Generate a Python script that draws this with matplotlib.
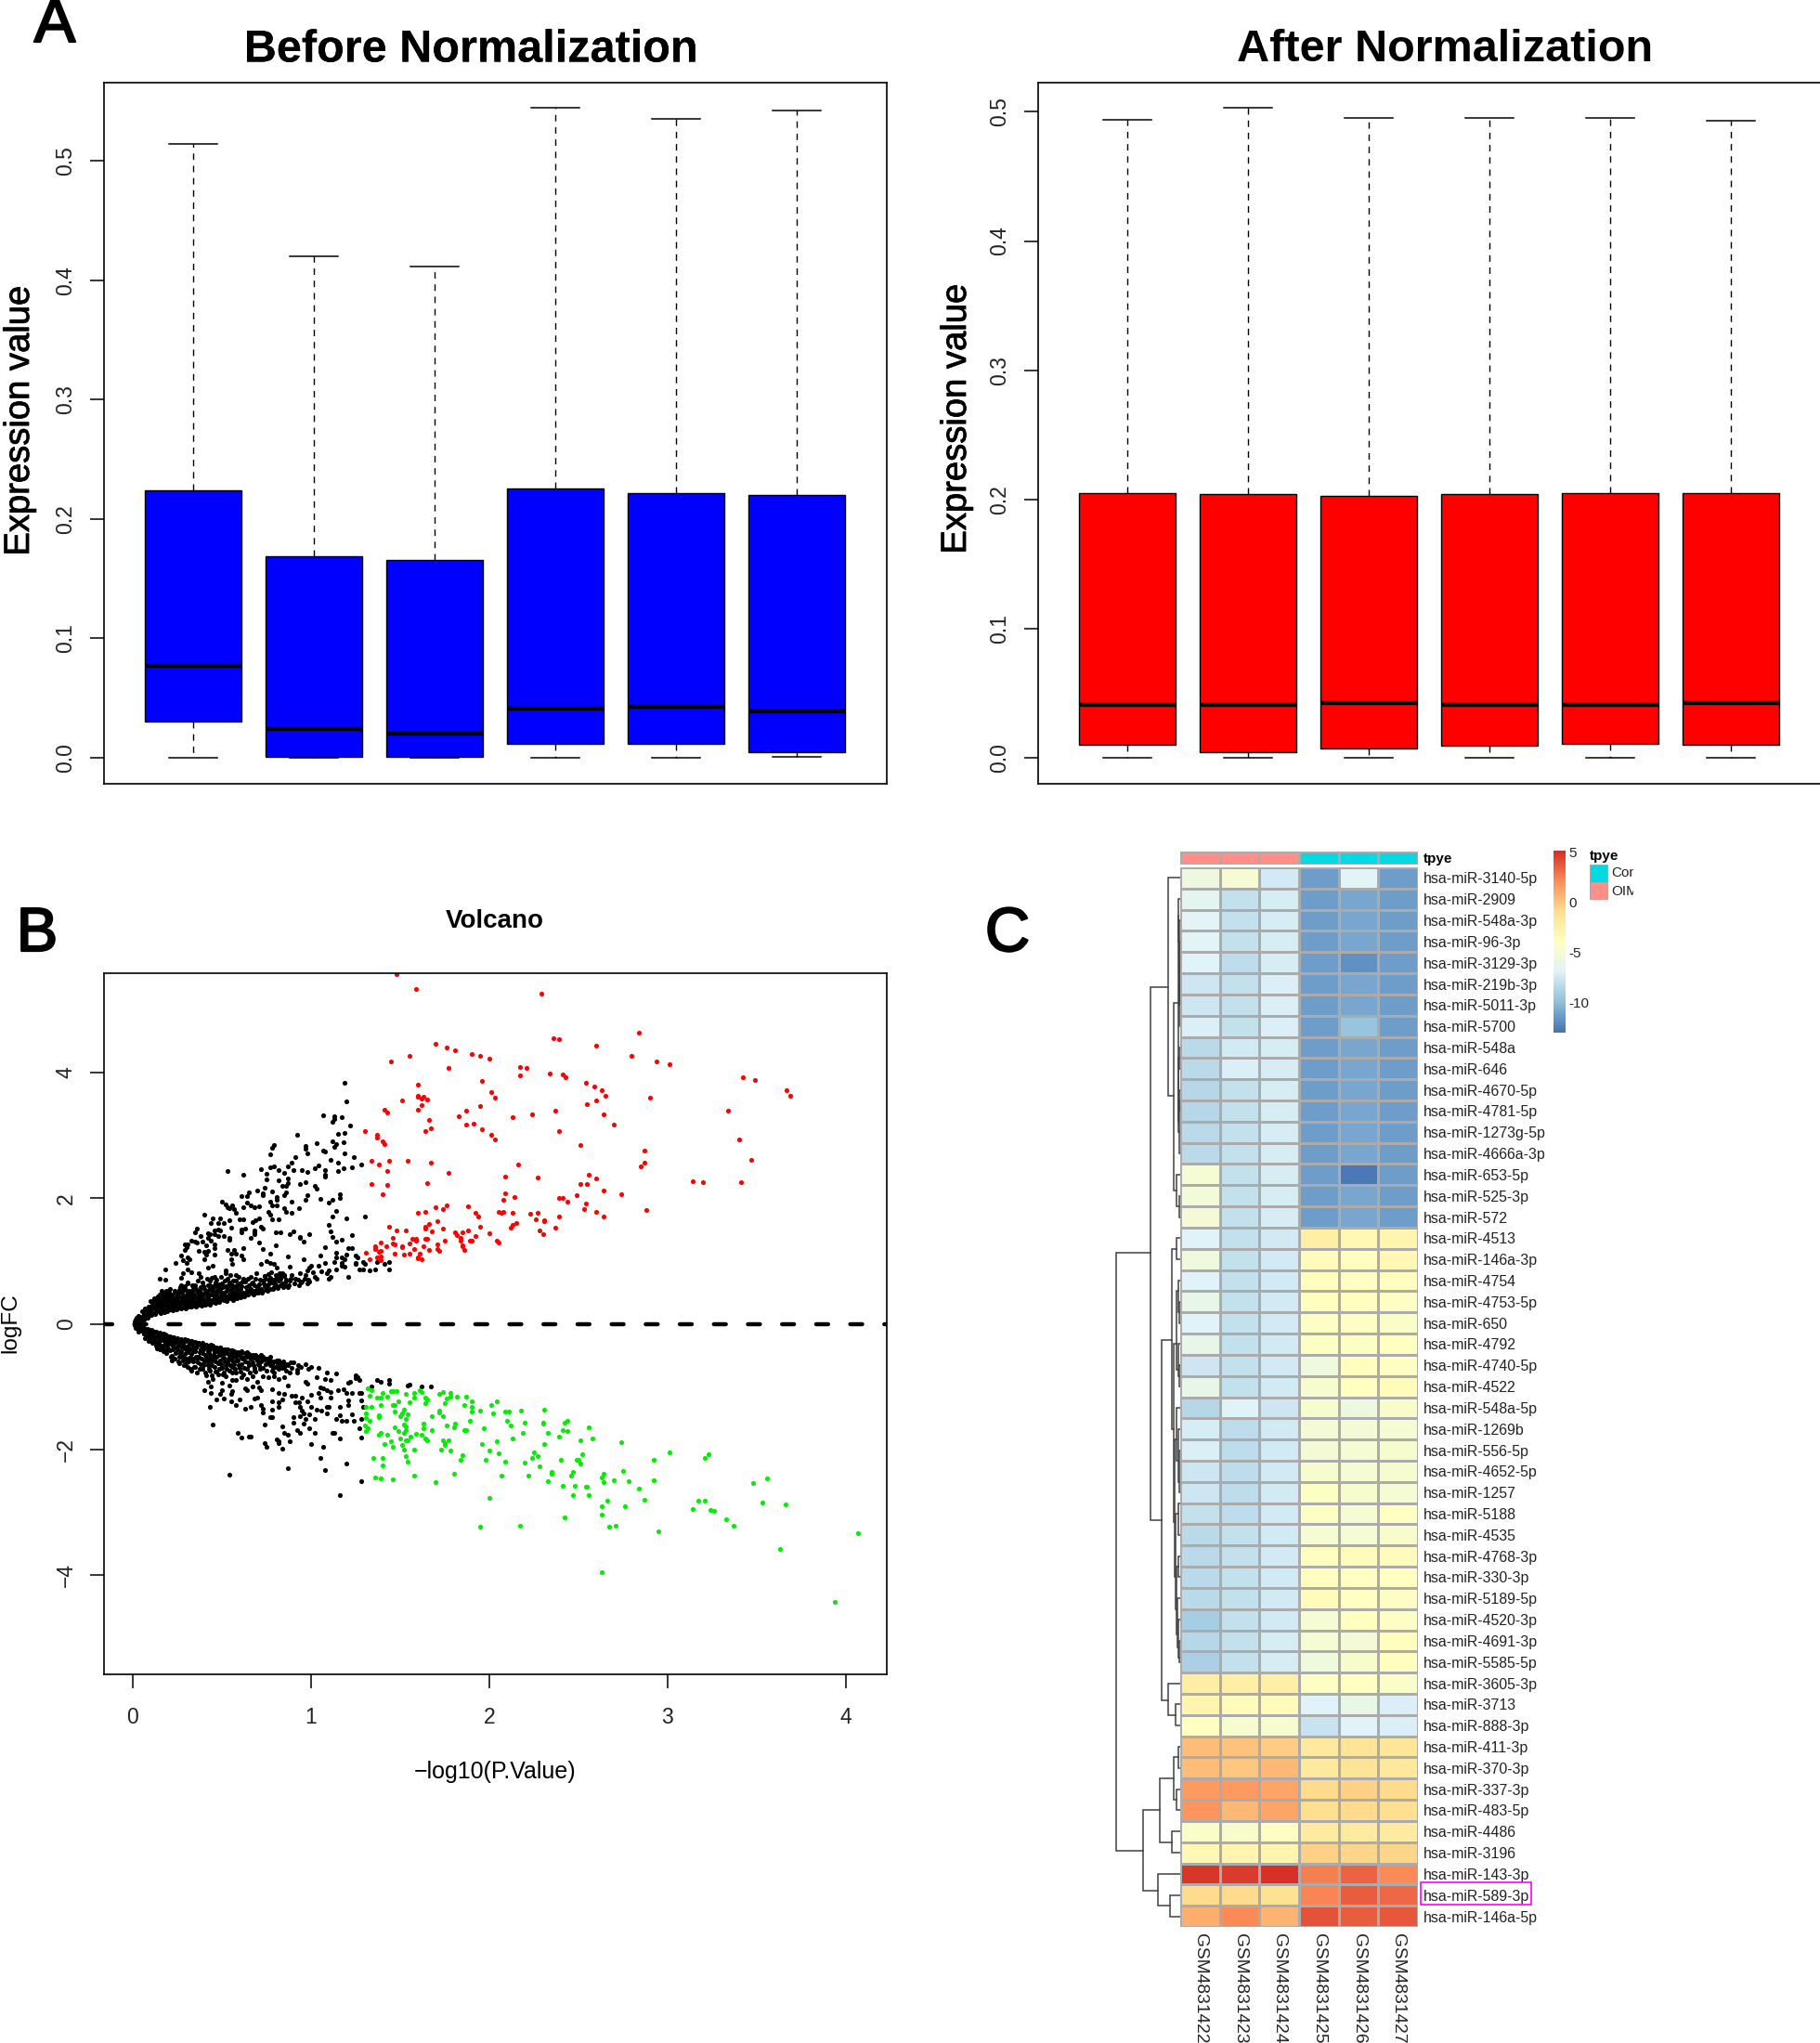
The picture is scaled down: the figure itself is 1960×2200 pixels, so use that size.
import numpy as np
import matplotlib
matplotlib.use('Agg')
import matplotlib.pyplot as plt
import matplotlib.patheffects as pe
from matplotlib.colors import LinearSegmentedColormap, ListedColormap
from matplotlib.patches import Rectangle

plt.rcParams['font.family'] = ['Liberation Sans', 'DejaVu Sans']

W, H = 1960, 2200

# panel A
before_hi = [0.514, 0.420, 0.412, 0.545, 0.535, 0.542]
before_q3 = [0.224, 0.169, 0.166, 0.226, 0.222, 0.220]
before_med = [0.077, 0.024, 0.020, 0.041, 0.043, 0.039]
before_q1 = [0.030, 0.001, 0.001, 0.012, 0.012, 0.005]
before_lo = [0.0, 0.0, 0.0, 0.0, 0.0, 0.001]

after_hi = [0.494, 0.503, 0.495, 0.495, 0.495, 0.493]
after_q3 = [0.2045, 0.204, 0.203, 0.204, 0.205, 0.2045]
after_med = [0.041, 0.041, 0.042, 0.041, 0.041, 0.042]
after_q1 = [0.010, 0.004, 0.007, 0.009, 0.011, 0.010]
after_lo = [0.0, 0.0, 0.0, 0.0, 0.0, 0.0]

# panel B, (-log10 p, logFC)
red_pts = [
(1.48,5.57),(1.59,5.33),(2.29,5.26),(2.84,4.64),(2.36,4.55),(2.39,4.53),(2.60,4.43),(1.70,4.46),(1.76,4.40),(1.81,4.36),
(1.90,4.30),(1.95,4.26),(2.00,4.22),(1.55,4.27),(1.45,4.17),(2.80,4.26),(2.94,4.17),(3.01,4.13),(2.17,4.09),(2.21,4.07),
(1.77,4.07),(2.17,3.96),(2.34,3.99),(2.41,3.97),(2.43,3.92),(3.42,3.92),(3.49,3.88),(1.96,3.87),(2.54,3.83),(2.59,3.78),
(2.63,3.72),(3.67,3.72),(3.69,3.63),(1.60,3.80),(2.01,3.69),(2.03,3.60),(2.65,3.63),(2.90,3.60),(1.60,3.63),(1.60,3.62),
(1.63,3.62),(1.62,3.58),(1.65,3.57),(1.51,3.55),(1.62,3.48),(2.60,3.55),(2.55,3.50),(1.95,3.47),(1.41,3.40),(1.43,3.37),
(1.60,3.40),(1.87,3.39),(2.37,3.39),(3.34,3.39),(2.24,3.33),(2.64,3.34),(1.83,3.30),(2.13,3.29),(1.66,3.24),(1.87,3.17),
(1.91,3.18),(2.70,3.17),(1.67,3.11),(1.96,3.10),(1.64,3.06),(1.30,3.06),(2.39,3.06),(1.37,3.01),(1.37,2.96),(2.01,3.01),
(2.03,2.93),(3.40,2.93),(1.40,2.90),(1.41,2.86),(2.51,2.84),(2.87,2.75),(1.34,2.59),(1.44,2.59),(1.54,2.60),(1.67,2.57),
(1.38,2.53),(2.16,2.54),(3.47,2.61),(2.87,2.56),(2.85,2.50),(1.43,2.43),(1.77,2.40),(2.09,2.34),(2.27,2.33),(2.56,2.37),
(2.60,2.31),(3.14,2.27),(3.20,2.25),(3.41,2.25),(1.34,2.23),(1.43,2.21),(1.65,2.24),(2.51,2.23),(2.55,2.23),(2.64,2.12),
(1.40,2.06),(2.09,2.07),(2.74,2.06),(2.49,2.04),(2.14,2.02),(2.39,2.01),(2.41,2.00),(2.08,1.97),(2.44,1.94),(2.54,1.92),
(1.76,1.89),(1.70,1.85),(1.74,1.83),(1.88,1.87),(2.53,1.83),(2.88,1.81),(1.60,1.76),(1.64,1.78),(1.92,1.77),(2.05,1.78),
(2.07,1.76),(2.08,1.78),(2.13,1.76),(2.23,1.75),(2.27,1.76),(2.60,1.78),(1.94,1.70),(2.39,1.70),(2.64,1.70),(2.26,1.67),
(2.31,1.64),(2.31,1.65),(1.71,1.63),(1.66,1.59),(2.15,1.61),(1.44,1.55),(1.95,1.55),(2.13,1.57),(2.12,1.53),(2.37,1.53),
(1.64,1.54),(1.64,1.51),(1.74,1.52),(1.48,1.48),(1.53,1.49),(1.68,1.47),(1.88,1.49),(1.85,1.46),(1.81,1.45),(1.82,1.41),
(2.00,1.44),(2.28,1.48),(2.30,1.43),(1.92,1.39),(1.84,1.37),(1.57,1.35),(1.59,1.35),(1.59,1.33),(1.46,1.36),(1.64,1.35),
(1.65,1.35),(1.75,1.33),(1.84,1.32),(1.89,1.33),(1.90,1.32),(2.04,1.33),(2.05,1.30),(1.39,1.30),(1.46,1.28),(1.47,1.26),
(1.55,1.28),(1.71,1.27),(1.42,1.24),(1.36,1.23),(1.51,1.24),(1.51,1.22),(1.63,1.23),(1.85,1.25),(1.85,1.23),(1.36,1.19),
(1.58,1.19),(1.66,1.18),(1.71,1.19),(1.72,1.16),(1.86,1.17),(1.39,1.16),(1.38,1.15),(1.31,1.13),(1.47,1.12),(1.52,1.10),
(1.55,1.11),(1.61,1.12),(1.39,1.07),(1.37,1.05),(1.60,1.06),(1.60,1.04),(1.62,1.02),(1.33,1.02),(1.39,1.01),
]

green_pts = [
(1.32,-1.02),(1.34,-1.06),(1.40,-1.10),(1.33,-1.15),(1.37,-1.17),(1.39,-1.18),(1.43,-1.16),(1.45,-1.07),(1.46,-1.07),(1.48,-1.07),
(1.53,-1.12),(1.58,-1.10),(1.61,-1.06),(1.62,-1.09),(1.72,-1.12),(1.74,-1.08),(1.78,-1.10),(1.58,-1.18),(1.64,-1.17),(1.65,-1.20),
(1.76,-1.19),(1.78,-1.16),(1.82,-1.16),(1.87,-1.16),(1.49,-1.23),(1.55,-1.25),(1.64,-1.27),(1.75,-1.26),(1.90,-1.23),(2.04,-1.23),
(2.01,-1.29),(1.86,-1.29),(1.39,-1.30),(1.46,-1.30),(1.47,-1.30),(1.31,-1.33),(1.34,-1.32),(1.90,-1.33),(1.52,-1.37),(1.47,-1.39),
(1.72,-1.38),(1.72,-1.41),(1.90,-1.39),(1.95,-1.38),(2.09,-1.39),(2.11,-1.39),(2.18,-1.38),(2.31,-1.37),(1.51,-1.42),(1.31,-1.42),
(2.02,-1.42),(1.54,-1.44),(1.50,-1.47),(1.38,-1.46),(1.38,-1.48),(1.68,-1.47),(1.74,-1.47),(1.31,-1.50),(1.53,-1.51),(1.33,-1.54),
(1.89,-1.55),(2.10,-1.55),(2.44,-1.54),(2.42,-1.57),(1.63,-1.59),(1.81,-1.59),(2.20,-1.58),(2.30,-1.58),(2.30,-1.59),(1.30,-1.62),
(1.52,-1.61),(1.53,-1.63),(1.76,-1.62),(1.80,-1.65),(2.12,-1.62),(2.56,-1.65),(1.32,-1.67),(1.47,-1.65),(1.63,-1.66),(1.97,-1.67),
(1.53,-1.69),(1.68,-1.69),(1.86,-1.69),(1.87,-1.69),(2.41,-1.69),(1.31,-1.71),(1.49,-1.70),(1.52,-1.74),(2.33,-1.73),(2.44,-1.71),
(2.19,-1.73),(1.39,-1.73),(1.38,-1.77),(1.43,-1.76),(1.59,-1.75),(1.62,-1.77),(1.56,-1.80),(1.50,-1.82),(1.64,-1.82),(1.65,-1.85),
(2.39,-1.79),(2.13,-1.83),(2.58,-1.82),(1.45,-1.87),(1.53,-1.86),(1.54,-1.86),(1.74,-1.85),(1.77,-1.85),(2.04,-1.87),(2.51,-1.86),
(2.74,-1.88),(1.41,-1.91),(1.51,-1.93),(1.75,-1.90),(1.75,-1.93),(1.96,-1.92),(2.31,-1.92),(1.46,-1.96),(1.52,-2.00),(1.58,-2.00),
(1.73,-2.00),(1.78,-2.02),(2.00,-2.02),(2.25,-2.04),(2.05,-2.06),(3.01,-2.05),(3.23,-2.08),(1.85,-2.09),(1.53,-2.10),(2.27,-2.10),
(2.52,-2.08),(1.35,-2.14),(1.40,-2.14),(1.84,-2.16),(2.24,-2.13),(3.21,-2.14),(1.54,-2.19),(1.98,-2.17),(2.09,-2.19),(2.40,-2.17),
(2.49,-2.16),(2.50,-2.16),(2.92,-2.17),(2.20,-2.21),(2.51,-2.22),(1.40,-2.25),(2.28,-2.27),(2.75,-2.34),(2.35,-2.36),(2.35,-2.38),
(2.47,-2.36),(1.80,-2.38),(2.64,-2.38),(2.07,-2.41),(2.22,-2.42),(2.46,-2.42),(1.58,-2.42),(1.36,-2.45),(1.39,-2.46),(1.46,-2.48),
(2.63,-2.44),(3.56,-2.46),(2.70,-2.49),(2.33,-2.50),(2.92,-2.49),(2.64,-2.52),(2.78,-2.51),(1.70,-2.52),(3.48,-2.53),(2.41,-2.58),
(2.48,-2.58),(2.54,-2.60),(2.55,-2.59),(2.84,-2.63),(2.56,-2.72),(2.47,-2.73),(2.00,-2.77),(2.66,-2.81),(2.87,-2.80),(3.17,-2.81),
(3.21,-2.81),(3.53,-2.85),(3.66,-2.87),(2.63,-2.91),(2.76,-2.90),(3.14,-2.95),(3.24,-2.97),(3.26,-2.98),(2.42,-3.08),(2.63,-3.04),
(3.33,-3.11),(1.95,-3.23),(2.17,-3.21),(2.67,-3.23),(2.71,-3.22),(3.37,-3.22),(2.95,-3.30),(4.07,-3.34),(3.63,-3.58),(2.63,-3.96),(3.94,-4.43),
]

black_up_pts = [
(1.19,3.83),(1.20,3.54),(1.07,3.32),(1.13,3.30),(1.17,3.29),(1.13,3.26),(1.12,3.21),(1.22,3.15),(1.15,3.03),(1.19,3.04),
(0.92,3.01),(1.12,2.90),(1.18,2.89),(1.14,2.86),(1.13,2.81),(0.79,2.85),(0.78,2.80),(0.97,2.83),(0.97,2.79),(1.03,2.87),
(1.07,2.76),(1.08,2.74),(0.77,2.70),(0.98,2.71),(1.19,2.71),(1.24,2.66),(0.91,2.65),(0.89,2.57),(1.11,2.61),(1.15,2.57),
(1.28,2.54),(1.04,2.52),(1.02,2.48),(1.18,2.48),(1.23,2.49),(0.79,2.50),(0.77,2.49),(0.72,2.46),(0.82,2.45),(0.87,2.50),
(0.90,2.45),(0.95,2.45),(0.53,2.43),(0.85,2.40),(0.98,2.41),(1.08,2.45),(1.15,2.43),(1.08,2.37),(0.62,2.37),(0.75,2.38),
(1.08,2.35),(0.87,2.32),(0.82,2.29),(0.75,2.30),(0.97,2.25),(0.94,2.23),(0.87,2.24),(0.86,2.20),(0.84,2.19),(1.02,2.20),
(1.03,2.15),(0.74,2.16),(0.70,2.12),(0.78,2.11),(0.65,2.09),(0.73,2.08),(0.86,2.09),(0.64,2.03),(0.73,2.05),(0.61,2.03),
(0.85,2.04),(0.98,2.04),(1.16,2.06),(0.81,2.02),(0.81,1.97),(0.89,1.95),(0.97,1.97),(1.05,1.99),(1.16,2.00),(1.12,1.97),
(1.10,1.93),(0.50,1.94),(0.77,1.95),(0.64,1.93),(0.66,1.89),(0.68,1.86),(0.71,1.87),(0.52,1.90),(0.53,1.86),(0.56,1.88),
(0.54,1.84),(0.57,1.83),(0.62,1.86),(0.78,1.88),(0.81,1.88),(0.85,1.84),(0.86,1.78),(0.89,1.76),(0.93,1.84),(0.58,1.77),
(1.14,1.79),(0.76,1.78),(0.77,1.73),(0.40,1.73),(0.78,1.67),(0.82,1.66),(1.12,1.70),(1.30,1.70),(1.20,1.68),(0.45,1.68),
(0.49,1.68),(0.54,1.65),(0.60,1.66),(0.62,1.67),(0.71,1.68),(0.69,1.65),(0.67,1.62),(0.44,1.60),(0.48,1.60),(0.51,1.61),
(1.10,1.57),(0.36,1.52),(0.72,1.54),(0.73,1.52),(0.61,1.50),(0.63,1.51),(0.55,1.53),(0.48,1.50),(0.46,1.48),(0.49,1.49),
(0.68,1.49),(0.68,1.45),(0.61,1.45),(1.11,1.47),(0.80,1.46),(0.83,1.46),(0.90,1.47),(0.88,1.43),(0.99,1.43),(0.35,1.46),
(0.42,1.44),(0.43,1.43),(0.46,1.42),(0.48,1.40),(0.51,1.40),(0.38,1.39),(1.23,1.41),(1.12,1.38),(0.68,1.42),(0.66,1.37),
(0.42,1.36),(0.54,1.37),(0.54,1.34),(0.94,1.38),(0.94,1.36),(0.96,1.31),(1.17,1.34),(1.14,1.31),(0.33,1.32),(0.35,1.31),
(0.36,1.30),(0.39,1.31),(0.44,1.33),(0.46,1.27),(0.71,1.30),(0.29,1.27),(0.31,1.27),(0.41,1.25),(0.80,1.25),(1.08,1.22),
(0.46,1.20),(0.30,1.22),(0.29,1.18),(0.62,1.20),(0.73,1.19),(0.37,1.16),(0.40,1.14),(0.42,1.16),(0.53,1.18),(0.57,1.17),
(0.55,1.12),(0.58,1.12),(1.21,1.20),(1.23,1.21),(1.14,1.13),(0.77,1.12),(0.46,1.10),(0.41,1.10),(0.27,1.08),(0.61,1.08),
(1.20,1.10),(0.87,1.07),(1.05,1.08),(1.14,1.06),(0.62,1.03),(0.55,1.03),(0.31,1.06),(0.28,1.01),(0.32,1.02),(0.40,1.02),
(0.96,1.02),(1.17,1.05),(1.25,1.09),(1.26,1.06),(1.19,1.02),(0.24,0.97),(0.30,0.97),(0.75,1.00),(0.77,0.97),(0.79,0.95),
(0.72,0.95),(0.88,0.91),(0.81,0.90),(0.45,0.93),(0.42,0.89),(0.56,0.95),(0.18,0.87),(0.31,0.86),(0.33,0.82),(0.52,0.85),
(0.52,0.80),(1.00,0.93),(1.04,0.93),(1.08,0.97),(1.13,0.98),(1.17,0.97),(1.17,0.92),(1.25,0.97),(1.25,0.95),(1.29,0.98),
(1.30,0.95),(1.37,0.99),(1.41,0.95),(1.44,0.99),(1.44,0.87),(1.36,0.87),(1.33,0.85),(1.29,0.86),(1.27,0.86),(1.21,0.74),
(1.19,0.91),(1.14,0.86),(1.10,0.85),(1.06,0.83),(1.09,0.80),(1.11,0.75),(1.10,0.71),(0.99,0.90),(0.98,0.85),(0.94,0.80),
(0.97,0.77),(1.01,0.82),(1.02,0.75),(1.03,0.71),(0.99,0.67),(0.98,0.64),(0.95,0.67),(0.93,0.62),(0.91,0.72),(0.89,0.77),
(0.88,0.68),(0.87,0.59),(0.84,0.80),(0.83,0.77),(0.85,0.76),(0.80,0.78),(0.76,0.79),(0.74,0.76),(0.28,0.80),(0.27,0.73),
(0.15,0.72),(0.18,0.70),(0.37,0.80),(0.38,0.75),(0.58,0.78),(0.46,0.74),
]

# the packed band above the zero line
black_up_band = [
(0.03,0.05),(0.02,0.10),(0.04,0.02),(0.03,0.13),(0.05,0.07),(0.06,0.15),(0.05,0.20),(0.04,0.11),(0.07,0.10),(0.08,0.17),
(0.07,0.24),(0.06,0.13),(0.09,0.13),(0.10,0.20),(0.09,0.28),(0.08,0.16),(0.10,0.36),(0.11,0.17),(0.12,0.24),(0.11,0.31),
(0.10,0.20),(0.12,0.40),(0.11,0.28),(0.13,0.18),(0.14,0.23),(0.13,0.30),(0.12,0.37),(0.14,0.44),(0.13,0.26),(0.14,0.34),
(0.15,0.20),(0.16,0.26),(0.15,0.33),(0.16,0.40),(0.15,0.47),(0.16,0.52),(0.14,0.23),(0.15,0.30),(0.17,0.21),(0.18,0.27),
(0.17,0.36),(0.18,0.42),(0.17,0.50),(0.16,0.24),(0.18,0.31),(0.19,0.22),(0.20,0.29),(0.19,0.35),(0.20,0.45),(0.19,0.53),
(0.18,0.25),(0.20,0.40),(0.21,0.23),(0.22,0.30),(0.21,0.38),(0.22,0.47),(0.21,0.55),(0.20,0.27),(0.22,0.34),(0.23,0.24),
(0.24,0.32),(0.23,0.42),(0.24,0.50),(0.22,0.29),(0.23,0.37),(0.25,0.25),(0.26,0.33),(0.25,0.44),(0.26,0.54),(0.24,0.29),
(0.25,0.38),(0.27,0.25),(0.28,0.34),(0.27,0.42),(0.28,0.56),(0.27,0.62),(0.26,0.30),(0.29,0.26),(0.30,0.31),(0.29,0.40),
(0.30,0.47),(0.29,0.60),(0.28,0.35),(0.31,0.27),(0.32,0.33),(0.31,0.44),(0.32,0.53),(0.31,0.64),(0.30,0.38),(0.33,0.28),
(0.34,0.36),(0.33,0.46),(0.34,0.58),(0.32,0.32),(0.33,0.41),(0.35,0.29),(0.36,0.35),(0.35,0.43),(0.36,0.52),(0.35,0.62),
(0.34,0.39),(0.37,0.30),(0.38,0.38),(0.37,0.48),(0.38,0.58),(0.36,0.34),(0.37,0.43),(0.39,0.31),(0.40,0.36),(0.39,0.45),
(0.40,0.55),(0.39,0.66),(0.38,0.41),(0.41,0.32),(0.42,0.40),(0.41,0.50),(0.42,0.61),(0.40,0.36),(0.43,0.33),(0.44,0.38),
(0.43,0.47),(0.44,0.57),(0.43,0.68),(0.42,0.43),(0.45,0.34),(0.46,0.42),(0.45,0.52),(0.46,0.62),(0.44,0.38),(0.47,0.36),
(0.48,0.41),(0.47,0.49),(0.48,0.58),(0.47,0.70),(0.46,0.45),(0.49,0.37),(0.50,0.44),(0.49,0.54),(0.50,0.65),(0.48,0.40),
(0.51,0.38),(0.52,0.42),(0.51,0.50),(0.52,0.60),(0.50,0.46),(0.53,0.39),(0.54,0.46),(0.53,0.56),(0.54,0.66),(0.52,0.43),
(0.53,0.72),(0.55,0.41),(0.56,0.48),(0.55,0.52),(0.56,0.62),(0.57,0.42),(0.58,0.46),(0.57,0.58),(0.58,0.68),(0.59,0.44),
(0.60,0.50),(0.59,0.55),(0.60,0.64),(0.61,0.45),(0.62,0.49),(0.61,0.60),(0.62,0.71),(0.63,0.46),(0.64,0.53),(0.63,0.67),
(0.64,0.50),(0.65,0.48),(0.66,0.56),(0.65,0.61),(0.66,0.74),(0.67,0.49),(0.68,0.53),(0.67,0.66),(0.69,0.50),(0.70,0.58),
(0.69,0.72),(0.70,0.55),(0.71,0.52),(0.72,0.56),(0.71,0.63),(0.73,0.53),(0.74,0.60),(0.73,0.68),(0.74,0.76),(0.75,0.55),
(0.76,0.63),(0.75,0.58),(0.77,0.56),(0.78,0.66),(0.77,0.73),(0.79,0.58),(0.80,0.62),(0.79,0.70),(0.81,0.60),(0.82,0.68),
(0.81,0.76),(0.83,0.61),(0.84,0.65),(0.83,0.72),(0.85,0.62),(0.86,0.70),(0.85,0.78),
]

# second pass over the same band, the gaps between the first points
black_up_fill = [
(0.012,0.03),(0.016,0.07),(0.025,0.02),(0.035,0.08),(0.045,0.04),(0.055,0.10),(0.065,0.07),(0.065,0.18),(0.075,0.13),(0.085,0.10),
(0.085,0.22),(0.095,0.16),(0.105,0.14),(0.105,0.26),(0.115,0.35),(0.125,0.16),(0.125,0.29),(0.135,0.21),(0.135,0.39),(0.145,0.27),
(0.145,0.41),(0.155,0.17),(0.155,0.37),(0.165,0.29),(0.165,0.45),(0.175,0.19),(0.175,0.33),(0.185,0.39),(0.185,0.48),(0.195,0.20),
(0.195,0.31),(0.205,0.36),(0.205,0.50),(0.215,0.26),(0.215,0.43),(0.225,0.21),(0.225,0.40),(0.235,0.33),(0.235,0.53),(0.245,0.23),
(0.245,0.41),(0.255,0.35),(0.255,0.48),(0.265,0.26),(0.265,0.58),(0.275,0.37),(0.275,0.50),(0.285,0.30),(0.285,0.44),(0.295,0.24),
(0.295,0.54),(0.305,0.35),(0.305,0.66),(0.315,0.49),(0.325,0.27),(0.325,0.38),(0.335,0.52),(0.335,0.62),(0.345,0.32),(0.345,0.46),
(0.355,0.27),(0.355,0.56),(0.365,0.40),(0.365,0.68),(0.375,0.35),(0.375,0.53),(0.385,0.29),(0.385,0.48),(0.395,0.39),(0.395,0.60),
(0.405,0.31),(0.405,0.50),(0.415,0.44),(0.415,0.72),(0.425,0.36),(0.425,0.54),(0.435,0.31),(0.435,0.62),(0.445,0.46),(0.445,0.73),
(0.455,0.37),(0.455,0.58),(0.465,0.33),(0.465,0.66),(0.475,0.44),(0.475,0.54),(0.485,0.35),(0.485,0.63),(0.495,0.48),(0.495,0.74),
(0.505,0.40),(0.505,0.58),(0.515,0.45),(0.515,0.68),(0.525,0.36),(0.525,0.52),(0.535,0.62),(0.545,0.42),(0.545,0.77),(0.555,0.57),
(0.565,0.38),(0.565,0.68),(0.575,0.51),(0.585,0.41),(0.585,0.62),(0.595,0.74),(0.605,0.42),(0.605,0.56),(0.615,0.67),(0.625,0.44),
(0.635,0.58),(0.645,0.46),(0.645,0.72),(0.655,0.54),(0.665,0.65),(0.675,0.47),(0.685,0.61),(0.695,0.80),(0.705,0.49),(0.715,0.70),
(0.725,0.50),(0.735,0.64),(0.745,0.72),(0.755,0.53),(0.765,0.68),(0.775,0.82),(0.785,0.55),(0.795,0.64),(0.805,0.72),(0.815,0.57),
(0.825,0.80),(0.845,0.59),(0.855,0.66),(0.875,0.62),(0.885,0.72),(0.905,0.64),(0.925,0.70),(0.945,0.66),(0.965,0.72),(0.985,0.70),
]

black_down_pts = [
(1.16,-2.73),(0.54,-2.40),(0.87,-2.30),(1.08,-2.33),(1.20,-2.22),(1.28,-2.50),(1.05,-2.13),(0.45,-1.60),(0.43,-1.32),(0.40,-1.06),
(0.59,-1.73),(0.61,-1.81),(0.65,-1.80),(0.66,-1.80),(0.74,-1.90),(0.75,-1.96),(0.81,-1.84),(0.82,-1.87),(0.82,-1.90),(0.84,-1.99),
(0.88,-1.87),(0.87,-1.76),(0.85,-1.74),(0.84,-1.64),(0.74,-1.61),(1.00,-1.92),(1.07,-1.96),(1.16,-1.83),(1.28,-1.81),(1.27,-1.67),
(1.13,-1.74),(1.12,-1.73),(1.02,-1.73),(0.99,-1.66),(0.96,-1.59),(0.92,-1.69),(0.94,-1.74),(0.90,-1.58),(0.90,-1.48),(0.94,-1.47),
(0.96,-1.42),(0.97,-1.52),(0.99,-1.44),(1.02,-1.52),(1.09,-1.43),(1.14,-1.52),(1.17,-1.55),(1.20,-1.55),(1.24,-1.54),(1.28,-1.52),
(1.23,-1.44),(1.16,-1.45),(1.16,-1.33),(1.06,-1.38),(1.03,-1.37),(1.00,-1.32),(0.94,-1.32),(0.95,-1.38),(1.09,-1.32),(1.10,-1.32),
(1.21,-1.30),(1.21,-1.22),(1.28,-1.22),(1.29,-1.32),(0.98,-1.24),(0.95,-1.18),(0.93,-1.25),(0.91,-1.25),(0.89,-1.15),(0.91,-1.14),
(1.00,-1.13),(1.05,-1.18),(1.11,-1.18),(1.04,-1.10),(1.09,-1.06),(1.11,-1.08),(1.05,-1.01),(1.07,-1.03),(1.15,-1.06),(1.18,-1.04),
(1.20,-1.10),(1.23,-1.10),(1.27,-1.10),(1.28,-1.10),(1.21,-0.94),(1.22,-0.92),(1.25,-0.82),(1.26,-0.85),(1.27,-0.89),(1.25,-0.87),
(1.37,-0.90),(1.39,-0.93),(1.44,-0.90),(1.44,-0.96),(1.34,-1.00),(1.54,-0.99),(1.55,-0.97),(1.62,-1.00),(1.67,-1.00),(0.63,-1.35),
(0.66,-1.32),(0.72,-1.30),(0.73,-1.35),(0.73,-1.41),(0.78,-1.36),(0.82,-1.33),(0.77,-1.49),(0.78,-1.48),(0.58,-1.30),(0.55,-1.23),
(0.51,-1.19),(0.47,-1.21),(0.60,-1.20),(0.68,-1.19),(0.70,-1.18),(0.78,-1.24),(0.82,-1.25),(0.84,-1.20),(0.85,-1.12),(0.82,-1.10),
(0.78,-1.04),(0.72,-1.06),(0.71,-1.01),(0.67,-1.00),(0.64,-1.06),(0.63,-1.02),(0.55,-1.12),(0.56,-1.07),(0.49,-1.12),(0.50,-1.06),
(0.50,-0.94),(0.54,-0.98),(0.44,-1.10),(0.44,-1.00),(0.42,-0.93),(0.45,-0.88),(0.48,-0.80),(0.51,-0.78),(0.52,-0.83),(0.56,-0.90),
(0.58,-0.90),(0.61,-0.85),(0.64,-0.88),(0.68,-0.75),(0.67,-0.83),(0.70,-0.93),(0.73,-0.83),(0.76,-0.85),(0.79,-0.83),(0.82,-0.88),
(0.85,-0.85),(0.87,-0.98),(0.78,-0.75),(0.77,-0.66),(0.92,-0.78),(0.97,-0.93),(0.98,-0.95),(1.03,-0.85),(1.08,-0.88),(1.11,-0.90),
(1.14,-0.79),(1.09,-0.78),(0.90,-0.61),(0.97,-0.65),(1.00,-0.69),(1.04,-0.70),(0.92,-0.73),(0.85,-0.68),(0.82,-0.58),(0.77,-0.52),
(0.72,-0.50),(0.68,-0.52),(0.64,-0.45),(0.61,-0.44),(0.56,-0.42),(0.52,-0.41),(0.49,-0.37),(0.44,-0.33),(0.39,-0.32),(0.33,-0.28),
(0.28,-0.37),(0.22,-0.26),(0.18,-0.17),(0.12,-0.24),(0.10,-0.11),(0.06,-0.14),
]

# the packed band below the zero line
black_down_band = [
(0.02,-0.04),(0.03,-0.09),(0.04,-0.03),(0.03,-0.13),(0.05,-0.07),(0.06,-0.16),(0.05,-0.11),(0.07,-0.08),(0.08,-0.18),(0.07,-0.23),
(0.06,-0.12),(0.09,-0.10),(0.10,-0.20),(0.09,-0.27),(0.08,-0.14),(0.11,-0.11),(0.12,-0.22),(0.11,-0.31),(0.10,-0.16),(0.13,-0.13),
(0.14,-0.24),(0.13,-0.35),(0.14,-0.18),(0.15,-0.14),(0.16,-0.26),(0.15,-0.40),(0.16,-0.20),(0.17,-0.16),(0.18,-0.29),(0.17,-0.44),
(0.18,-0.22),(0.19,-0.18),(0.20,-0.31),(0.19,-0.47),(0.20,-0.24),(0.21,-0.20),(0.22,-0.33),(0.21,-0.42),(0.22,-0.51),(0.23,-0.21),
(0.24,-0.27),(0.23,-0.37),(0.24,-0.46),(0.22,-0.58),(0.25,-0.23),(0.26,-0.30),(0.25,-0.41),(0.26,-0.52),(0.27,-0.24),(0.28,-0.33),
(0.27,-0.44),(0.28,-0.58),(0.26,-0.63),(0.29,-0.25),(0.30,-0.36),(0.29,-0.48),(0.30,-0.62),(0.31,-0.27),(0.32,-0.31),(0.31,-0.42),
(0.32,-0.54),(0.31,-0.68),(0.33,-0.28),(0.34,-0.38),(0.33,-0.48),(0.34,-0.60),(0.33,-0.74),(0.35,-0.29),(0.36,-0.34),(0.35,-0.44),
(0.36,-0.56),(0.35,-0.68),(0.37,-0.30),(0.38,-0.40),(0.37,-0.52),(0.38,-0.64),(0.36,-0.78),(0.39,-0.31),(0.40,-0.36),(0.39,-0.47),
(0.40,-0.60),(0.39,-0.72),(0.41,-0.33),(0.42,-0.43),(0.41,-0.54),(0.42,-0.66),(0.41,-0.82),(0.43,-0.34),(0.44,-0.38),(0.43,-0.49),
(0.44,-0.60),(0.43,-0.74),(0.45,-0.35),(0.46,-0.45),(0.45,-0.56),(0.46,-0.68),(0.47,-0.37),(0.48,-0.41),(0.47,-0.52),(0.48,-0.63),
(0.47,-0.76),(0.49,-0.38),(0.50,-0.48),(0.49,-0.58),(0.50,-0.70),(0.51,-0.40),(0.52,-0.44),(0.51,-0.54),(0.52,-0.66),(0.53,-0.41),
(0.54,-0.50),(0.53,-0.61),(0.54,-0.74),(0.55,-0.42),(0.56,-0.47),(0.55,-0.57),(0.56,-0.69),(0.57,-0.43),(0.58,-0.52),(0.57,-0.64),
(0.58,-0.77),(0.59,-0.45),(0.60,-0.49),(0.59,-0.58),(0.60,-0.70),(0.61,-0.46),(0.62,-0.54),(0.61,-0.65),(0.62,-0.80),(0.63,-0.47),
(0.64,-0.52),(0.63,-0.60),(0.64,-0.72),(0.65,-0.48),(0.66,-0.56),(0.65,-0.66),(0.67,-0.49),(0.68,-0.54),(0.67,-0.62),(0.68,-0.70),
(0.69,-0.50),(0.70,-0.58),(0.69,-0.76),(0.71,-0.52),(0.72,-0.60),(0.71,-0.66),(0.73,-0.53),(0.74,-0.57),(0.73,-0.70),(0.75,-0.55),
(0.76,-0.62),(0.75,-0.74),(0.77,-0.58),(0.78,-0.64),(0.79,-0.60),(0.80,-0.68),(0.79,-0.78),(0.81,-0.62),(0.82,-0.72),(0.83,-0.63),
(0.84,-0.70),(0.85,-0.65),(0.86,-0.74),(0.87,-0.66),(0.88,-0.78),(0.89,-0.70),
]

black_down_fill = [
(0.012,-0.02),(0.016,-0.06),(0.025,-0.03),(0.035,-0.06),(0.045,-0.05),(0.055,-0.09),(0.065,-0.06),(0.065,-0.15),(0.075,-0.11),(0.085,-0.08),
(0.085,-0.22),(0.095,-0.14),(0.105,-0.09),(0.105,-0.25),(0.115,-0.18),(0.125,-0.12),(0.125,-0.29),(0.135,-0.21),(0.135,-0.39),(0.145,-0.15),
(0.145,-0.30),(0.155,-0.22),(0.155,-0.34),(0.165,-0.17),(0.165,-0.37),(0.175,-0.25),(0.175,-0.33),(0.185,-0.19),(0.185,-0.40),(0.195,-0.27),
(0.195,-0.35),(0.205,-0.21),(0.205,-0.41),(0.215,-0.28),(0.215,-0.52),(0.225,-0.22),(0.225,-0.40),(0.235,-0.30),(0.235,-0.55),(0.245,-0.24),
(0.245,-0.38),(0.255,-0.34),(0.255,-0.60),(0.265,-0.26),(0.265,-0.46),(0.275,-0.37),(0.275,-0.52),(0.285,-0.29),(0.285,-0.66),(0.295,-0.41),
(0.295,-0.55),(0.305,-0.26),(0.305,-0.45),(0.315,-0.35),(0.315,-0.60),(0.325,-0.40),(0.325,-0.72),(0.335,-0.32),(0.335,-0.55),(0.345,-0.44),
(0.345,-0.68),(0.355,-0.37),(0.355,-0.52),(0.365,-0.30),(0.365,-0.62),(0.375,-0.45),(0.375,-0.72),(0.385,-0.35),(0.385,-0.56),(0.395,-0.40),
(0.395,-0.66),(0.405,-0.50),(0.405,-0.78),(0.415,-0.38),(0.415,-0.60),(0.425,-0.47),(0.425,-0.72),(0.435,-0.41),(0.435,-0.56),(0.445,-0.66),
(0.445,-0.82),(0.455,-0.40),(0.455,-0.50),(0.465,-0.60),(0.465,-0.76),(0.475,-0.44),(0.485,-0.50),(0.485,-0.72),(0.495,-0.43),(0.495,-0.65),
(0.505,-0.54),(0.505,-0.80),(0.515,-0.46),(0.515,-0.60),(0.525,-0.72),(0.535,-0.48),(0.535,-0.56),(0.545,-0.66),(0.555,-0.47),(0.555,-0.78),
(0.565,-0.53),(0.565,-0.60),(0.575,-0.72),(0.585,-0.48),(0.585,-0.58),(0.595,-0.66),(0.605,-0.52),(0.605,-0.76),(0.615,-0.56),(0.625,-0.70),
(0.635,-0.50),(0.645,-0.62),(0.655,-0.78),(0.665,-0.52),(0.675,-0.66),(0.695,-0.53),(0.705,-0.64),(0.715,-0.72),(0.725,-0.56),(0.745,-0.64),
(0.765,-0.56),(0.785,-0.70),(0.805,-0.58),(0.825,-0.66),(0.845,-0.60),(0.865,-0.64),(0.885,-0.62),(0.925,-0.66),(0.945,-0.68),(0.985,-0.72),
]

# panel C
row_names = ['hsa-miR-3140-5p', 'hsa-miR-2909', 'hsa-miR-548a-3p', 'hsa-miR-96-3p', 'hsa-miR-3129-3p',
             'hsa-miR-219b-3p', 'hsa-miR-5011-3p', 'hsa-miR-5700', 'hsa-miR-548a', 'hsa-miR-646',
             'hsa-miR-4670-5p', 'hsa-miR-4781-5p', 'hsa-miR-1273g-5p', 'hsa-miR-4666a-3p', 'hsa-miR-653-5p',
             'hsa-miR-525-3p', 'hsa-miR-572', 'hsa-miR-4513', 'hsa-miR-146a-3p', 'hsa-miR-4754',
             'hsa-miR-4753-5p', 'hsa-miR-650', 'hsa-miR-4792', 'hsa-miR-4740-5p', 'hsa-miR-4522',
             'hsa-miR-548a-5p', 'hsa-miR-1269b', 'hsa-miR-556-5p', 'hsa-miR-4652-5p', 'hsa-miR-1257',
             'hsa-miR-5188', 'hsa-miR-4535', 'hsa-miR-4768-3p', 'hsa-miR-330-3p', 'hsa-miR-5189-5p',
             'hsa-miR-4520-3p', 'hsa-miR-4691-3p', 'hsa-miR-5585-5p', 'hsa-miR-3605-3p', 'hsa-miR-3713',
             'hsa-miR-888-3p', 'hsa-miR-411-3p', 'hsa-miR-370-3p', 'hsa-miR-337-3p', 'hsa-miR-483-5p',
             'hsa-miR-4486', 'hsa-miR-3196', 'hsa-miR-143-3p', 'hsa-miR-589-3p', 'hsa-miR-146a-5p']
col_names = ['GSM4831422', 'GSM4831423', 'GSM4831424', 'GSM4831425', 'GSM4831426', 'GSM4831427']
anno_groups = [1, 1, 1, 0, 0, 0]

heat_vals = [
[-5.6, -5.0, -7.5, -11.3, -6.7, -11.3],
[-6.6, -8.1, -7.3, -11.3, -10.9, -11.3],
[-6.8, -8.1, -7.3, -11.3, -10.9, -11.3],
[-6.8, -8.1, -7.3, -11.3, -10.9, -11.3],
[-7.0, -8.2, -7.3, -11.3, -11.8, -11.3],
[-7.6, -8.0, -7.2, -11.3, -10.9, -11.3],
[-7.7, -8.0, -7.2, -11.3, -10.9, -11.3],
[-7.2, -8.0, -7.2, -11.3, -9.7, -11.3],
[-8.4, -7.4, -7.3, -11.3, -10.9, -11.3],
[-8.4, -7.1, -7.3, -11.3, -10.9, -11.3],
[-8.6, -8.0, -7.3, -11.3, -10.9, -11.3],
[-8.6, -8.0, -7.3, -11.3, -10.9, -11.3],
[-8.3, -8.0, -7.3, -11.3, -10.9, -11.3],
[-8.4, -8.0, -7.3, -11.3, -10.9, -11.3],
[-4.9, -8.0, -7.3, -11.3, -12.7, -11.3],
[-5.3, -8.0, -7.3, -11.3, -10.9, -11.3],
[-5.2, -8.0, -7.3, -11.3, -10.9, -11.3],
[-7.0, -8.1, -7.5, -2.5, -3.4, -3.0],
[-5.4, -8.1, -7.5, -3.6, -3.8, -3.1],
[-7.0, -8.1, -7.5, -3.8, -4.0, -3.8],
[-6.2, -8.1, -7.5, -3.8, -3.8, -4.2],
[-6.9, -8.1, -7.5, -4.3, -4.3, -4.4],
[-6.3, -8.1, -7.5, -4.3, -4.2, -4.0],
[-7.7, -8.1, -7.5, -5.4, -3.9, -4.3],
[-6.3, -8.1, -7.5, -4.8, -4.1, -3.6],
[-8.5, -7.0, -7.6, -4.8, -5.6, -4.6],
[-7.3, -8.2, -7.5, -5.2, -5.1, -5.0],
[-7.2, -8.2, -7.5, -5.2, -5.0, -4.7],
[-7.7, -8.2, -7.5, -4.8, -5.0, -4.8],
[-7.6, -8.2, -7.4, -4.3, -4.8, -4.9],
[-8.0, -8.2, -7.5, -4.3, -5.0, -4.1],
[-8.3, -8.0, -7.5, -5.0, -5.0, -4.5],
[-8.3, -8.0, -7.4, -3.8, -3.7, -3.7],
[-8.3, -8.0, -7.4, -3.9, -4.1, -4.0],
[-8.3, -8.0, -7.4, -3.7, -4.1, -4.2],
[-9.1, -8.0, -7.4, -5.0, -4.0, -4.3],
[-8.6, -8.0, -7.3, -5.0, -5.1, -3.8],
[-8.9, -8.0, -7.3, -5.4, -4.5, -3.8],
[-2.3, -2.5, -2.4, -4.2, -4.0, -4.4],
[-3.0, -3.7, -3.6, -7.0, -6.0, -7.2],
[-4.0, -4.8, -4.7, -7.8, -6.9, -7.2],
[0.27, 0.2, -0.2, -1.9, -1.4, -1.5],
[0.3, -0.05, 0.55, -1.9, -1.4, -1.7],
[1.5, 1.6, 1.2, -0.8, -0.5, -0.7],
[1.8, 0.5, 1.2, -0.9, -0.8, -0.9],
[-4.4, -4.5, -4.3, -2.1, -2.1, -2.1],
[-3.3, -3.0, -3.0, -0.5, -0.6, -0.6],
[4.9, 4.6, 5.1, 2.4, 3.3, 2.1],
[-0.8, -0.8, -1.2, 2.3, 3.6, 3.2],
[0.9, 2.2, 0.6, 4.0, 3.6, 3.8],
]

# merges: height, upper row, upper child height, lower row, lower child height
dendro_links = [
(69, 18.7, 32, 46.9, 39.7),
(32, 6.15, 13.3, 31.3, 20),
(13.3, 1, 0, 11.3, 7),
(7, 6.9, 2.5, 15.75, 4.5),
(2.5, 2.8, 1.7, 12.5, 2),
(1.7, 2, 0, 4, 1.5),
(1.5, 3, 0, 5.5, 1.2),
(1.2, 4, 0, 7, 1),
(1, 5, 0, 8, 0.8),
(0.8, 6, 0, 7, 0),
(2, 9.5, 1.4, 13, 1.2),
(1.4, 9, 0, 10, 0),
(1.2, 11.5, 0.8, 14, 0),
(0.8, 11, 0, 12, 0),
(4.5, 15, 0, 16.5, 1),
(1, 16, 0, 17, 0),
(20, 22.8, 8.7, 39.8, 13),
(8.7, 18.5, 4, 27, 7),
(4, 18, 0, 19, 0),
(7, 23, 3.7, 31.4, 6),
(3.7, 20.5, 2.2, 24.2, 2.5),
(2.2, 20, 0, 21.5, 1.5),
(1.5, 21, 0, 22, 0),
(2.5, 23, 0, 24.5, 1.5),
(1.5, 24, 0, 25, 0),
(6, 27.5, 3.7, 34, 5),
(3.7, 26, 0, 28.5, 1.7),
(1.7, 27, 0, 29.5, 1),
(1, 28, 0, 30, 0),
(5, 31, 1.7, 35.5, 4.3),
(1.7, 30.5, 0, 32, 0),
(4.3, 33.5, 1.7, 36.7, 3.3),
(1.7, 33, 0, 34, 0),
(3.3, 35, 0, 37.3, 1.7),
(1.7, 36, 0, 37.8, 1),
(1, 37, 0, 38, 0),
(13, 39, 0, 40.5, 5),
(5, 40, 0, 41, 0),
(39.7, 45, 22.3, 48.8, 24.3),
(22.3, 43.5, 7.3, 46.5, 8.7),
(7.3, 42.5, 2, 44.5, 3.7),
(2, 42, 0, 43, 0),
(3.7, 44, 0, 45, 0),
(8.7, 46, 0, 47, 0),
(24.3, 48, 0, 49.5, 11.3),
(11.3, 49, 0, 50, 0),
]

heat_colors = ['#4575B4', '#91BFDB', '#E0F3F8', '#FFFFBF', '#FEE090', '#FC8D59', '#D73027']
grey_edge = '#ababab'


def box_ax(l, t, r, b):
    return fig.add_axes([l / W, 1 - b / H, (r - l) / W, (b - t) / H])


def fig_text(x, y, s, **kw):
    return fig.text(x / W, 1 - y / H, s, ha=kw.pop('ha', 'center'), va=kw.pop('va', 'center'), **kw)


def heavy(t, w):
    t.set_path_effects([pe.withStroke(linewidth=w, foreground='black')])


def draw_boxes(ax, hi, q3, med, q1, lo, colour):
    stats = []
    for i in range(6):
        stats.append({'whishi': hi[i], 'q3': q3[i], 'med': med[i], 'q1': q1[i], 'whislo': lo[i], 'fliers': []})
    ax.bxp(stats, positions=range(1, 7), widths=0.8, capwidths=0.4, patch_artist=True, showfliers=False,
           boxprops={'facecolor': colour, 'edgecolor': 'black', 'linewidth': 1.0},
           medianprops={'color': 'black', 'linewidth': 3.2, 'solid_capstyle': 'butt'},
           whiskerprops={'color': 'black', 'linewidth': 1.0, 'linestyle': (0, (5, 4.5))},
           capprops={'color': 'black', 'linewidth': 1.1})
    ax.set_xlim(0.257, 6.743)
    ax.set_ylim(-0.0218, 0.5657)
    ax.set_xticks([])
    ax.set_yticks([0, 0.1, 0.2, 0.3, 0.4, 0.5])
    ax.set_yticklabels(['0.0', '0.1', '0.2', '0.3', '0.4', '0.5'], rotation=90, va='center', fontsize=16.5, color='#222222')
    ax.tick_params(axis='y', length=10.8, width=1.1, pad=10)
    for s in ax.spines.values():
        s.set_linewidth(1.2)


fig = plt.figure(figsize=(W / 100, H / 100), dpi=100)

ax1 = box_ax(111.5, 89, 954.5, 844)
draw_boxes(ax1, before_hi, before_q3, before_med, before_q1, before_lo, '#0000ff')
ax2 = box_ax(1117.5, 89, 1960.5, 844)
draw_boxes(ax2, after_hi, after_q3, after_med, after_q1, after_lo, '#ff0000')
ax2.set_ylim(-0.0202, 0.5226)

heavy(fig_text(507, 54, 'Before Normalization', fontsize=35, fontweight='bold'), 0)
fig_text(1556, 54, 'After Normalization', fontsize=35, fontweight='bold')
heavy(fig_text(21, 453, 'Expression value', rotation=90, fontsize=27.5), 0.6)
heavy(fig_text(1030, 451, 'Expression value', rotation=90, fontsize=27.5), 0.6)
heavy(fig_text(59, 45, 'A', fontsize=48, va='baseline'), 1.6)
heavy(fig_text(40, 1024, 'B', fontsize=48, va='baseline'), 1.6)
heavy(fig_text(1085, 1024, 'C', fontsize=48, va='baseline'), 1.6)

# volcano
ax3 = box_ax(111.7, 1048, 955, 1803)
for pts, c in [(black_up_pts, 'black'), (black_up_band, 'black'), (black_up_fill, 'black'),
               (black_down_pts, 'black'), (black_down_band, 'black'), (black_down_fill, 'black'),
               (red_pts, '#ff0000'), (green_pts, '#00ee00')]:
    p = np.array(pts)
    ax3.plot(p[:, 0], p[:, 1], 'o', color=c, ms=3.7, mew=0)
ax3.axhline(0, color='black', lw=3.2, linestyle=(0.9, (2.9, 5.36)), dash_capstyle='round')
ax3.set_xlim(-0.163, 4.23)
ax3.set_ylim(-5.58, 5.58)
ax3.set_xticks([0, 1, 2, 3, 4])
ax3.set_yticks([-4, -2, 0, 2, 4])
ax3.set_yticklabels(['\u22124', '\u22122', '0', '2', '4'], rotation=90, va='center')
ax3.tick_params(axis='both', length=10.8, width=1.1, labelsize=16.5, labelcolor='#222222')
ax3.tick_params(axis='x', pad=14.5)
ax3.tick_params(axis='y', pad=10)
for s in ax3.spines.values():
    s.set_linewidth(1.2)
fig_text(533, 992, 'Volcano', fontsize=20, fontweight='bold')
fig_text(11, 1425, 'logFC', rotation=90, fontsize=17.5)
fig_text(533, 1908, '\u2212log10(P.Value)', fontsize=18)

# heatmap
cmap = LinearSegmentedColormap.from_list('rdylbu', heat_colors, N=100)
ax4 = box_ax(1271, 934, 1527, 2075)
mesh = ax4.pcolormesh(np.array(heat_vals), cmap=cmap, vmin=-13, vmax=5.1, edgecolors=grey_edge, linewidth=0.75)
ax4.set_ylim(50, 0)
ax4.yaxis.tick_right()
ax4.set_yticks(np.arange(50) + 0.5)
ax4.set_yticklabels(row_names, fontsize=11.4, color='#222222')
ax4.set_xticks(np.arange(6) + 0.5)
ax4.set_xticklabels(col_names, rotation=270, fontsize=13.8, color='#222222', ha='center', va='top')
ax4.tick_params(length=0, pad=4)
ax4.tick_params(axis='x', pad=5)
for s in ax4.spines.values():
    s.set_visible(False)

ax5 = box_ax(1271, 917, 1527, 931)
ax5.pcolormesh(np.array([anno_groups]), cmap=ListedColormap(['#00dae0', '#ff8f88']), edgecolors=grey_edge, linewidth=0.75)
ax5.axis('off')
fig_text(1533, 925, 'tpye', fontsize=11, fontweight='bold', ha='left')

ax6 = box_ax(1200, 934, 1271, 2075)
for h, y1, h1, y2, h2 in dendro_links:
    ax6.plot([h1, h, h, h2], [y1, y1, y2, y2], color='#404040', lw=1.1, solid_joinstyle='miter')
ax6.set_xlim(71, 0)
ax6.set_ylim(50.5, 0.5)
ax6.axis('off')

# colour key
ax7 = box_ax(1673, 916, 1686, 1112)
cb = fig.colorbar(mesh, cax=ax7)
cb.set_ticks([5, 0, -5, -10])
cb.set_ticklabels(['5', '0', '-5', '-10'])
cb.ax.tick_params(length=0, pad=2.5, labelsize=11, labelcolor='#222222')
cb.outline.set_visible(False)

# legend, its labels are cut off in the source
fig_text(1712, 922, 'tpye', fontsize=11, fontweight='bold', ha='left')
ax8 = box_ax(1712, 931, 1759, 969)
ax8.set_xlim(0, 47)
ax8.set_ylim(38, 0)
ax8.axis('off')
ax8.add_patch(Rectangle((0, 0), 19, 19, facecolor='#00dae0', edgecolor=grey_edge, lw=0.8))
ax8.add_patch(Rectangle((0, 19), 19, 19, facecolor='#ff8f88', edgecolor=grey_edge, lw=0.8))
ax8.text(23, 9.5, 'Control', fontsize=11, va='center', color='#222222', clip_on=True)
ax8.text(23, 28.5, 'OIM', fontsize=11, va='center', color='#222222', clip_on=True)

# highlighted name
fig.add_artist(Rectangle((1530 / W, 1 - 2051 / H), 119 / W, 24 / H, transform=fig.transFigure,
                         fill=False, edgecolor='#ff00ff', lw=1.2))

fig.savefig('out.png', dpi=100)
